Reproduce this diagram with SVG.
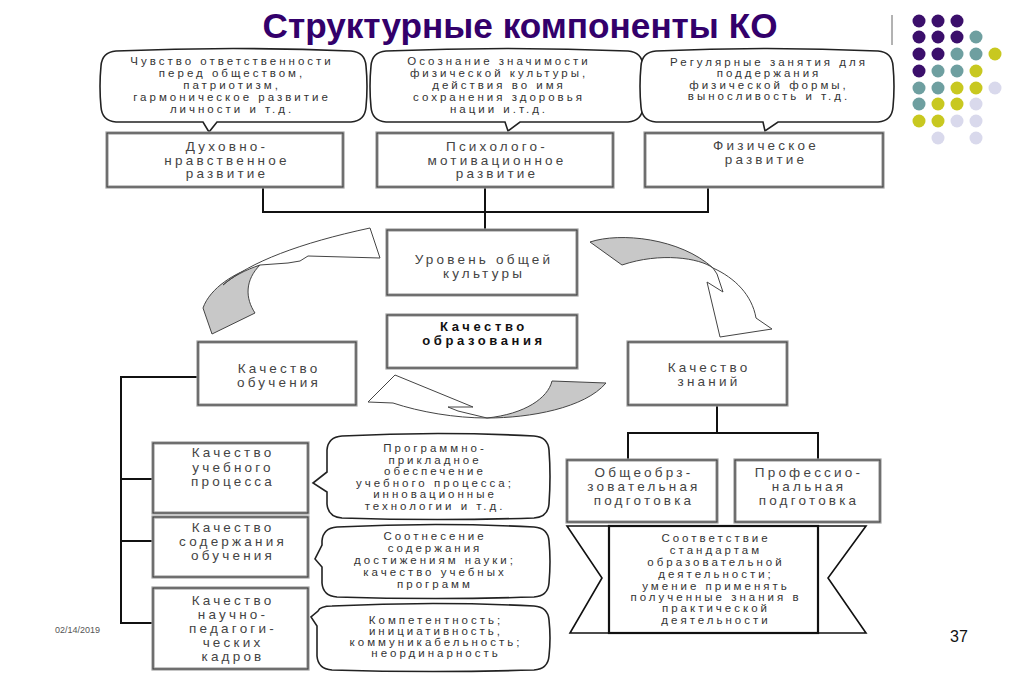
<svg xmlns="http://www.w3.org/2000/svg" width="1024" height="683" viewBox="0 0 1024 683">
<style>
.bo{fill:#fff;stroke:#a0a0a0;stroke-width:3.2}
.bi{fill:none;stroke:#333;stroke-width:0.9}
.t{font-family:"Liberation Sans",Arial,sans-serif;font-size:13.5px;letter-spacing:3.2px;fill:#444;text-anchor:middle}
.tb{font-family:"Liberation Sans",Arial,sans-serif;font-size:13px;font-weight:bold;letter-spacing:3.6px;fill:#111;text-anchor:middle}
.c{font-family:"Liberation Sans",Arial,sans-serif;font-size:11.5px;letter-spacing:3px;fill:#333;text-anchor:middle}
.bub{fill:#fff;stroke:#222;stroke-width:1.6}
.ln{stroke:#111;stroke-width:2;fill:none}
.ag{fill:#c8c8c8;stroke:#444;stroke-width:1}
.aw{fill:#fff;stroke:#444;stroke-width:1}
.rb{fill:#fff;stroke:#111;stroke-width:1.6}
.p{fill:#3b0f6b}.q{fill:#6e9fa0}.y{fill:#c8c820}.l{fill:#d9d9ec}
</style>
<rect width="1024" height="683" fill="#fff"/>
<g id="title">
<text x="520" y="38" font-family="Liberation Sans, Arial, sans-serif" font-size="35" font-weight="bold" fill="#33006b" text-anchor="middle" textLength="515" lengthAdjust="spacingAndGlyphs">Структурные компоненты КО</text>
<line x1="892" y1="15" x2="892" y2="45" stroke="#666" stroke-width="1"/>
</g>
<g id="dots">
<circle class="p" cx="919" cy="21" r="6.5"/><circle class="p" cx="938" cy="21" r="6.5"/><circle class="p" cx="957" cy="21" r="6.5"/>
<circle class="p" cx="919" cy="37" r="6.5"/><circle class="p" cx="938" cy="37" r="6.5"/><circle class="p" cx="957" cy="37" r="6.5"/><circle class="q" cx="976" cy="37" r="6.5"/>
<circle class="p" cx="919" cy="54" r="6.5"/><circle class="p" cx="938" cy="54" r="6.5"/><circle class="q" cx="957" cy="54" r="6.5"/><circle class="q" cx="976" cy="54" r="6.5"/><circle class="y" cx="995" cy="54" r="6.5"/>
<circle class="p" cx="919" cy="71" r="6.5"/><circle class="q" cx="938" cy="71" r="6.5"/><circle class="q" cx="957" cy="71" r="6.5"/><circle class="y" cx="976" cy="71" r="6.5"/>
<circle class="q" cx="919" cy="88" r="6.5"/><circle class="q" cx="938" cy="88" r="6.5"/><circle class="y" cx="957" cy="88" r="6.5"/><circle class="y" cx="976" cy="88" r="6.5"/><circle class="l" cx="995" cy="88" r="6.5"/>
<circle class="q" cx="919" cy="104" r="6.5"/><circle class="y" cx="938" cy="104" r="6.5"/><circle class="y" cx="957" cy="104" r="6.5"/><circle class="l" cx="976" cy="104" r="6.5"/>
<circle class="y" cx="919" cy="121" r="6.5"/><circle class="y" cx="938" cy="121" r="6.5"/><circle class="l" cx="957" cy="121" r="6.5"/><circle class="l" cx="976" cy="121" r="6.5"/>
<circle class="l" cx="938" cy="138" r="6.5"/><circle class="l" cx="976" cy="138" r="6.5"/>
</g>
<g id="connectors">
<polyline class="ln" points="263,187 263,212 708,212 708,187"/>
<line class="ln" x1="485" y1="187" x2="485" y2="230"/>
<polyline class="ln" points="198,377 121,377 121,623 153,623"/>
<line class="ln" x1="121" y1="479" x2="153" y2="479"/>
<line class="ln" x1="121" y1="541" x2="153" y2="541"/>
<line class="ln" x1="717" y1="405" x2="717" y2="433"/>
<polyline class="ln" points="628,460 628,433 818,433 818,460"/>
</g>
<g id="cycle-arrows">
<path class="ag" d="M260,265 C235,272 210,288 203,308 L212,334 L255,313 C245,298 245,280 260,265 Z"/>
<path class="aw" d="M223,285 C250,262 300,243 370,228 L380,258 L308,256 L300,261 L288,263 L260,265 C245,270 232,277 223,285 Z"/>
<path class="ag" d="M590,242 C620,232 680,238 713,268 C700,258 660,252 622,265 Z"/>
<path class="aw" d="M713,268 C735,278 752,295 756,318 L772,329 L720,337 L707,282 L723,292 L717,274 Z"/>
<path class="aw" d="M368,402 L395,375 L473,407 L448,407 L458,411 L487,418 C455,418 420,412 393,403 Z"/>
<path class="ag" d="M487,418 C530,418 585,408 606,383 L552,381 C548,398 525,414 487,418 Z"/>
</g>
<g id="callout-1">
<path class="bub" d="M116,51 Q233,46 351,51 Q365,52 366,66 Q368,86 366,107 Q365,121 351,122 L217,122 L209,132 L203,122 L116,122 Q102,121 101,107 Q99,86 101,66 Q102,52 116,51 Z"/>
<text class="c"><tspan x="232" y="65">Чувство ответственности</tspan><tspan x="232" y="77">перед обществом,</tspan><tspan x="232" y="89">патриотизм,</tspan><tspan x="232" y="101">гармоническое развитие</tspan><tspan x="232" y="113">личности и т.д.</tspan></text>
</g>
<g id="callout-2">
<path class="bub" d="M386,51 Q507,46 628,51 Q642,52 643,66 Q645,86 643,107 Q642,121 628,122 L520,122 L508,131 L505,122 L386,122 Q372,121 371,107 Q369,86 371,66 Q372,52 386,51 Z"/>
<text class="c"><tspan x="499" y="65">Осознание значимости</tspan><tspan x="499" y="77">физической культуры,</tspan><tspan x="499" y="89">действия во имя</tspan><tspan x="499" y="101">сохранения здоровья</tspan><tspan x="499" y="113">нации и.т.д.</tspan></text>
</g>
<g id="callout-3">
<path class="bub" d="M656,51 Q767,46 878,51 Q892,52 893,66 Q895,86 893,107 Q892,121 878,122 L778,122 L765,131 L763,122 L656,122 Q642,121 641,107 Q639,86 641,66 Q642,52 656,51 Z"/>
<text class="c"><tspan x="769" y="66">Регулярные занятия для</tspan><tspan x="769" y="77">поддержания</tspan><tspan x="769" y="89">физической формы,</tspan><tspan x="769" y="100">выносливость и т.д.</tspan></text>
</g>
<g id="box-spiritual">
<rect class="bo" x="107" y="133" width="236" height="54"/><rect class="bi" x="107" y="133" width="236" height="54"/>
<text class="t"><tspan x="227" y="151">Духовно-</tspan><tspan x="227" y="164.5">нравственное</tspan><tspan x="227" y="178">развитие</tspan></text>
</g>
<g id="box-psych">
<rect class="bo" x="377" y="133" width="236" height="54"/><rect class="bi" x="377" y="133" width="236" height="54"/>
<text class="t"><tspan x="497" y="151">Психолого-</tspan><tspan x="497" y="164.5">мотивационное</tspan><tspan x="497" y="178">развитие</tspan></text>
</g>
<g id="box-physical">
<rect class="bo" x="645" y="133" width="238" height="54"/><rect class="bi" x="645" y="133" width="238" height="54"/>
<text class="t"><tspan x="766" y="150">Физическое</tspan><tspan x="766" y="163.5">развитие</tspan></text>
</g>
<g id="box-culture">
<rect class="bo" x="387" y="230" width="190" height="65"/><rect class="bi" x="387" y="230" width="190" height="65"/>
<text class="t"><tspan x="484" y="264">Уровень общей</tspan><tspan x="484" y="277.5">культуры</tspan></text>
</g>
<g id="box-education">
<rect class="bo" x="387" y="315" width="190" height="53"/><rect class="bi" x="387" y="315" width="190" height="53"/>
<text class="tb"><tspan x="484" y="331">Качество</tspan><tspan x="484" y="345">образования</tspan></text>
</g>
<g id="box-teaching">
<rect class="bo" x="198" y="342" width="158" height="63"/><rect class="bi" x="198" y="342" width="158" height="63"/>
<text class="t"><tspan x="279" y="373">Качество</tspan><tspan x="279" y="387">обучения</tspan></text>
</g>
<g id="box-knowledge">
<rect class="bo" x="628" y="342" width="159" height="63"/><rect class="bi" x="628" y="342" width="159" height="63"/>
<text class="t"><tspan x="709" y="372">Качество</tspan><tspan x="709" y="386">знаний</tspan></text>
</g>
<g id="box-process">
<rect class="bo" x="153" y="443" width="155" height="70"/><rect class="bi" x="153" y="443" width="155" height="70"/>
<text class="t"><tspan x="233" y="457">Качество</tspan><tspan x="233" y="471.5">учебного</tspan><tspan x="233" y="486">процесса</tspan></text>
</g>
<g id="box-content">
<rect class="bo" x="153" y="517" width="155" height="60"/><rect class="bi" x="153" y="517" width="155" height="60"/>
<text class="t"><tspan x="233" y="532">Качество</tspan><tspan x="233" y="546">содержания</tspan><tspan x="233" y="560">обучения</tspan></text>
</g>
<g id="box-staff">
<rect class="bo" x="153" y="588" width="155" height="81"/><rect class="bi" x="153" y="588" width="155" height="81"/>
<text class="t"><tspan x="233" y="605">Качество</tspan><tspan x="233" y="619">научно-</tspan><tspan x="233" y="633">педагоги-</tspan><tspan x="233" y="647">ческих</tspan><tspan x="233" y="661">кадров</tspan></text>
</g>
<g id="callout-process">
<path class="bub" d="M342,436 Q438,431 534,436 Q548,437 549,450 Q551,476 549,504 Q548,517 534,518 Q438,521 342,518 Q328,517 327,504 L327,492 L313,483 L327,472 L327,450 Q328,437 342,436 Z"/>
<text class="c"><tspan x="435" y="452">Программно-</tspan><tspan x="435" y="463.5">прикладное</tspan><tspan x="435" y="475">обеспечение</tspan><tspan x="435" y="486.5">учебного процесса;</tspan><tspan x="435" y="498">инновационные</tspan><tspan x="435" y="509.5">технологии и т.д.</tspan></text>
</g>
<g id="callout-content">
<path class="bub" d="M337,527 Q436,522 534,527 Q548,528 549,541 Q551,561 549,583 Q548,596 534,597 Q436,600 337,597 Q323,596 322,583 L322,567 L315,559 L322,545 L322,541 Q323,528 337,527 Z"/>
<text class="c"><tspan x="435" y="540">Соотнесение</tspan><tspan x="435" y="552">содержания</tspan><tspan x="435" y="564">достижениям науки;</tspan><tspan x="435" y="576">качество учебных</tspan><tspan x="435" y="588">программ</tspan></text>
</g>
<g id="callout-staff">
<path class="bub" d="M332,606 Q433,601 534,606 Q548,607 549,620 Q551,638 549,656 Q548,669 534,670 Q433,673 332,670 Q318,669 317,656 L317,626 L311,617 L318,611 Q320,606 332,606 Z"/>
<text class="c"><tspan x="436" y="624">Компетентность;</tspan><tspan x="436" y="635">инициативность,</tspan><tspan x="436" y="646">коммуникабельность;</tspan><tspan x="436" y="657">неординарность</tspan></text>
</g>
<g id="box-general">
<rect class="bo" x="567" y="460" width="150" height="62"/><rect class="bi" x="567" y="460" width="150" height="62"/>
<text class="t"><tspan x="644" y="477">Общеобрз-</tspan><tspan x="644" y="491">зовательная</tspan><tspan x="644" y="505">подготовка</tspan></text>
</g>
<g id="box-professional">
<rect class="bo" x="735" y="460" width="145" height="62"/><rect class="bi" x="735" y="460" width="145" height="62"/>
<text class="t"><tspan x="809" y="477">Профессио-</tspan><tspan x="809" y="491">нальная</tspan><tspan x="809" y="505">подготовка</tspan></text>
</g>
<g id="ribbon-standards">
<polygon class="rb" points="567,526 609,526 609,633 570,633 602,578"/>
<polygon class="rb" points="866,526 818,526 818,633 866,633 828,578"/>
<rect x="609" y="526" width="209" height="107" fill="#fff" stroke="#111" stroke-width="2.2"/>
<text class="c"><tspan x="716" y="542">Соответствие</tspan><tspan x="716" y="554">стандартам</tspan><tspan x="716" y="566">образовательной</tspan><tspan x="716" y="578">деятельности;</tspan><tspan x="716" y="590">умение применять</tspan><tspan x="716" y="601">полученные знания в</tspan><tspan x="716" y="612">практической</tspan><tspan x="716" y="624">деятельности</tspan></text>
</g>
<g id="footer">
<text x="55" y="633" font-family="Liberation Sans, Arial, sans-serif" font-size="9" fill="#555">02/14/2019</text>
<text x="959" y="642" font-family="Liberation Sans, Arial, sans-serif" font-size="16" fill="#111" text-anchor="middle">37</text>
</g>
</svg>
